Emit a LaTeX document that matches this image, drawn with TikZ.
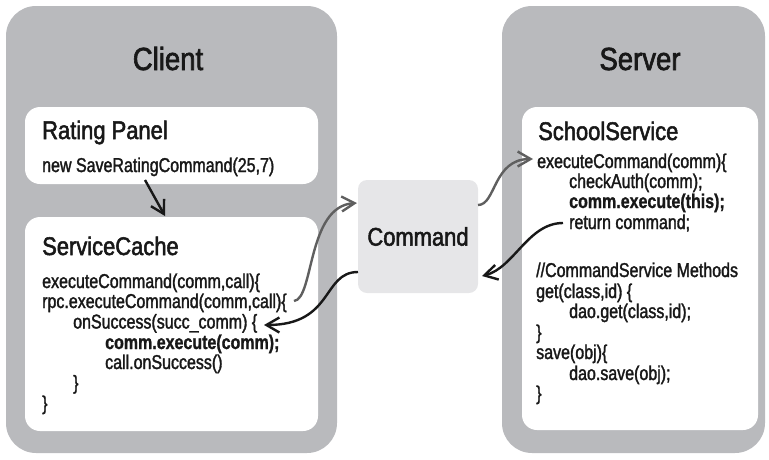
\documentclass[tikz,border=0pt]{standalone}
\usepackage{fontspec}
\setmainfont{Liberation Sans}[FakeStretch=0.86]
\newfontfamily\headfont{Liberation Sans}[FakeStretch=0.86, FakeBold=2]
\newfontfamily\codefont{Liberation Sans}[FakeStretch=0.8, FakeBold=1.6]
\newfontfamily\codeboldfont{Liberation Sans Bold}[FakeStretch=0.8, FakeBold=1]
\usetikzlibrary{arrows.meta,calc}
\definecolor{panelgray}{RGB}{185,186,189}
\definecolor{cmdgray}{RGB}{230,230,232}
\definecolor{ink}{RGB}{24,24,24}
\definecolor{wiregray}{RGB}{95,95,95}

\begin{document}
\begin{tikzpicture}[x=1pt,y=-1pt,
  panel/.style={fill=panelgray, rounded corners=30pt, inner sep=0pt, outer sep=0pt, anchor=north west},
  card/.style={fill=white, rounded corners=15pt, inner sep=0pt, outer sep=0pt, anchor=north west},
  cmdbox/.style={fill=cmdgray, rounded corners=9pt, inner sep=0pt, outer sep=0pt,
                 minimum width=120pt, minimum height=113pt, text=ink,
                 font=\headfont\fontsize{25.5}{30}\selectfont},
  title/.style={anchor=base, inner sep=0pt, text=ink, font=\headfont\fontsize{32}{36}\selectfont},
  heading/.style={anchor=base west, inner sep=0pt, text=ink, font=\headfont\fontsize{25.5}{30}\selectfont},
  code/.style={anchor=base west, inner sep=0pt, text=ink, font=\codefont\fontsize{20}{22}\selectfont},
  boldcode/.style={code, font=\codeboldfont\fontsize{20}{22}\selectfont},
  flow/.style={line width=2.4pt, -{Straight Barb[length=13pt,width=15pt,line width=2.4pt]}},
]
\useasboundingbox (0,0) rectangle (769,459);

% ---- containers
\node[panel, minimum width=331pt, minimum height=447pt] (client) at (6,6) {};
\node[panel, minimum width=263pt, minimum height=447pt] (server) at (502,6) {};
\node[card, minimum width=293pt, minimum height=77pt] (rating) at (25,107) {};
\node[card, minimum width=293pt, minimum height=214pt] (cache) at (25,217) {};
\node[card, minimum width=236pt, minimum height=323pt] (school) at (522,107) {};
\node[cmdbox] (command) at (418,236.5) {Command};

% ---- titles
\node[title] (clientT) at (168,70) {Client};
\node[title] (serverT) at (640,70) {Server};

% ---- Rating Panel
\node[heading] (ratingT) at (42,139) {Rating Panel};
\node[code] (newcmd) at (42,172) {new SaveRatingCommand(25,7)};

% ---- ServiceCache
\node[heading] (cacheT) at (42,255) {ServiceCache};
\node[code] (exec) at (42,288) {executeCommand(comm,call)\{};
\node[code] (rpc) at (42,308) {rpc.executeCommand(comm,call)\{};
\node[code] (onsucc) at (73,328.5) {onSuccess(succ\_comm) \{};
\node[boldcode] (cexec) at (105,349) {comm.execute(comm);};
\node[code] (callok) at (105,369) {call.onSuccess()};
\node[code] (cl1) at (73,389.5) {\}};
\node[code] (cl2) at (42,410) {\}};

% ---- SchoolService
\node[heading] (schoolT) at (538,140) {SchoolService};
\node[code] (sexec) at (537,168) {executeCommand(comm)\{};
\node[code] (auth) at (569,188) {checkAuth(comm);};
\node[boldcode] (sthis) at (569,208) {comm.execute(this);};
\node[code] (sret) at (569,229) {return command;};
\node[code] (cmt) at (536,277) {//CommandService Methods};
\node[code] (get) at (536,298) {get(class,id) \{};
\node[code] (daoget) at (569,318) {dao.get(class,id);};
\node[code] (cl3) at (536,339) {\}};
\node[code] (save) at (536,359) {save(obj)\{};
\node[code] (daosave) at (569,380) {dao.save(obj);};
\node[code] (cl4) at (536,400) {\}};

% ---- connector ends
\coordinate (newcmdOut) at (145,180);
\coordinate (cacheIn) at (165,216);
\coordinate (rpcOut) at (294,301);
\coordinate (succIn) at (264,325);
\coordinate (execIn) at (533,159);
\coordinate (retOut) at (563,223);
\coordinate (cmdInL) at ($(command.north west)+(-1,23)$);
\coordinate (cmdOutR) at ($(command.north east)+(0,25)$);
\coordinate (cmdInR) at ($(command.south east)+(4,-17)$);
\coordinate (cmdOutL) at ($(command.south west)+(0,-21)$);

% ---- connectors
\draw[flow, ink] (newcmdOut) -- (cacheIn);
\draw[flow, wiregray] (rpcOut) .. controls +(20,-2) and +(-50,3) .. (cmdInL);
\draw[flow, wiregray] (cmdOutR) .. controls +(18,0) and +(-40,0) .. (execIn);
\draw[flow, ink] (retOut) .. controls +(-35,0) and +(32,-8) .. (cmdInR);
\draw[flow, ink] (cmdOutL) .. controls +(-36,0) and +(70,0) .. (succIn);
\end{tikzpicture}
\end{document}
